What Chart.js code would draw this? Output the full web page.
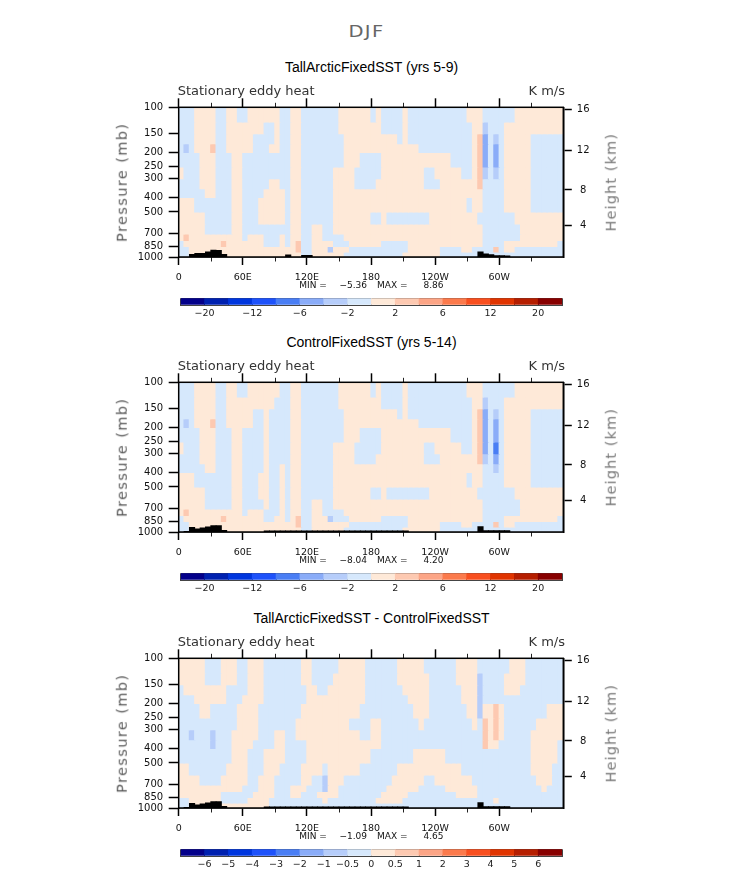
<!DOCTYPE html>
<html><head><meta charset="utf-8">
<script src="https://cdn.jsdelivr.net/npm/chart.js@4.4.1/dist/chart.umd.min.js"></script>
<style>
html,body{margin:0;padding:0;background:#fff;}
body{width:733px;height:872px;position:relative;overflow:hidden;font-family:"DejaVu Sans",sans-serif;}
.t{position:absolute;line-height:1;white-space:pre;}
canvas{position:absolute;}
</style></head><body>
<script>
// ---------------- DATA ----------------
const lonCenters = [2.5,7.5,12.5,17.5,22.5,27.5,32.5,37.5,42.5,47.5,52.5,57.5,62.5,67.5,72.5,77.5,82.5,87.5,92.5,97.5,102.5,107.5,112.5,117.5,122.5,127.5,132.5,137.5,142.5,147.5,152.5,157.5,162.5,167.5,172.5,177.5,182.5,187.5,192.5,197.5,202.5,207.5,212.5,217.5,222.5,227.5,232.5,237.5,242.5,247.5,252.5,257.5,262.5,267.5,272.5,277.5,282.5,287.5,292.5,297.5,302.5,307.5,312.5,317.5,322.5,327.5,332.5,337.5,342.5,347.5,352.5,357.5];
const pressureEdges = [100,125,150,175,200,250,300,350,400,500,600,700,775,850,925,1000];
const pressureTicks = [100,150,200,250,300,400,500,700,850,1000];
const heightTickPressures = [103.5,194,356.5,616.4];
const heightTickLabels = ['16','12','8','4'];
const lonTickValues = [0,60,120,180,240,300];
const lonTickLabels = ['0','60E','120E','180','120W','60W'];
const lonMinorTicks = [30,90,150,210,270,330];
const levelsFull = [-20,-16,-12,-8,-6,-4,-2,0,2,4,6,8,12,16,20];
const levelsDiff = [-6,-5,-4,-3,-2,-1,-0.5,0,0.5,1,2,3,4,5,6];
const cbBoundaries = [0,1,2,3,4,5,6,7,8,9,10,11,12,13,14,15,16];
const cbLabelsFull = ['','−20','','−12','','−6','','−2','','2','','6','','12','','20',''];
const cbLabelsDiff = ['','−6','−5','−4','−3','−2','−1','−0.5','0','0.5','1','2','3','4','5','6',''];
const palette = ['#03008A','#0021B0','#0036DE','#1E52FA','#4A7EF4','#8AACF8','#B6CDFA','#D6E8FC','#FEE9D8','#FDC9B1','#FCA586','#FB7A4C','#F84F1F','#E03400','#B51E00','#880000'];
const panelTitles = ['TallArcticFixedSST (yrs 5-9)','ControlFixedSST (yrs 5-14)','TallArcticFixedSST - ControlFixedSST'];
const panelMin = ['−5.36','−8.04','−1.09'];
const panelMax = ['8.86','4.20','4.65'];

// field: one array per 5° longitude column, values per pressure band (top 100-125 ... bottom 925-1000)
const taField = [
[-1,-1,-1,-1,-1,1,-1,-1,1,1,1,1,-1,-1,-1],[-1,-1,-1,-3,-1,-1,-1,-1,1,1,1,3,1,-1,-1],[-1,-1,-1,-1,-1,-1,-1,-1,1,1,1,1,1,1,1],[1,1,1,1,-1,-1,-1,-1,-1,1,1,1,1,1,1],
[1,1,1,1,1,1,1,-1,-1,1,1,1,1,1,1],[1,1,1,1,1,1,1,1,-1,-1,-1,1,1,1,1],[1,1,1,3,1,1,1,1,-1,-1,-1,1,1,1,1],[-1,-1,-1,-1,-1,-1,-1,-1,-1,-1,-1,1,1,1,1],
[-1,-1,-1,-1,-1,-1,-1,-1,-1,-1,-1,1,3,1,1],[1,1,1,1,-1,-1,-1,-1,-1,-1,-1,1,1,1,1],[1,1,1,1,1,1,1,1,1,1,1,1,1,1,1],[-1,1,1,1,1,1,1,1,1,1,1,1,1,1,1],
[-1,1,1,1,-1,-1,-1,-1,-1,-1,-1,-1,1,1,1],[1,1,1,1,-1,-1,-1,-1,-1,-1,-1,1,1,1,1],[1,1,-1,-1,-1,-1,-1,-1,-1,-1,-1,1,1,1,1],[1,1,-1,-1,-1,-1,-1,-1,1,1,-1,1,1,1,1],
[1,-1,-1,-1,-1,-1,-1,1,1,1,-1,-1,-1,1,1],[1,-1,-1,1,-1,-1,1,1,1,1,-1,-1,-1,1,1],[1,1,1,1,-1,-1,1,1,1,1,-1,-1,-1,1,1],[-1,-1,-1,-1,-1,-1,-1,1,1,1,-1,1,1,1,1],
[-1,-1,-1,-1,-1,-1,-1,-1,-1,-1,-1,-1,-1,1,1],[1,1,1,1,1,1,1,1,1,1,1,1,1,1,1],[1,1,1,1,1,1,1,1,1,1,1,1,3,3,1],[-1,-1,-1,-1,-1,-1,-1,-1,-1,-1,-1,-1,-1,-1,-1],
[-1,-1,-1,-1,-1,-1,-1,-1,-1,-1,-1,-1,-1,-1,-1],[-1,-1,-1,-1,-1,-1,-1,-1,-1,-1,1,1,1,1,1],[-1,-1,-1,-1,-1,-1,-1,-1,-1,-1,1,1,1,1,1],[-1,-1,-1,-1,-1,-1,-1,-1,-1,-1,-1,-1,1,1,1],
[-1,-1,-1,-1,-1,-1,-1,-1,-1,-1,-1,-1,1,-3,1],[-1,-1,-1,-1,-1,1,1,1,1,1,1,-1,-1,1,1],[1,1,-1,-1,-1,1,1,1,1,1,1,-1,-1,1,1],[1,1,1,1,1,1,1,1,1,1,1,1,-1,1,-1],
[1,1,1,1,1,1,1,1,1,1,1,1,1,-1,-1],[1,1,1,1,1,-1,-1,1,1,1,1,1,1,-1,-1],[1,1,1,1,-1,-1,-1,1,1,1,1,1,1,-1,-1],[1,1,1,1,-1,-1,-1,1,1,1,1,1,1,-1,-1],
[-1,1,1,1,-1,-1,-1,1,1,-1,1,1,1,-1,-1],[1,1,1,1,-1,-1,1,1,1,-1,1,1,1,-1,-1],[-1,-1,1,1,1,1,1,1,1,1,1,1,-1,-1,-1],[-1,-1,1,1,1,1,1,1,1,-1,1,1,-1,-1,-1],
[-1,-1,1,1,1,1,1,1,1,-1,1,1,-1,-1,-1],[-1,-1,-1,1,1,1,1,1,1,-1,1,1,-1,-1,-1],[1,1,1,1,1,1,1,1,1,-1,1,1,-1,-1,1],[-1,-1,-1,1,1,1,1,1,1,-1,1,1,1,1,1],
[-1,-1,-1,1,1,1,1,1,1,-1,1,1,1,1,1],[-1,-1,-1,-1,1,1,1,1,1,-1,1,1,1,1,1],[-1,-1,-1,-1,1,-1,-1,1,1,-1,1,1,1,1,1],[-1,-1,-1,-1,1,-1,-1,1,1,1,1,1,1,1,1],
[-1,-1,-1,-1,1,1,-1,1,1,1,1,1,1,1,1],[-1,-1,-1,-1,1,1,1,1,1,1,1,1,1,-1,-1],[-1,-1,-1,-1,1,1,1,1,1,1,1,1,1,-1,-1],[-1,-1,-1,-1,-1,1,1,1,1,1,1,1,1,-1,-1],
[-1,-1,-1,-1,-1,1,1,1,1,1,1,1,1,-1,-1],[-1,-1,-1,-1,-1,-1,1,1,1,1,1,1,1,1,-1],[1,-1,-1,-1,-1,-1,1,1,-1,1,1,1,1,1,-1],[1,1,1,1,1,1,1,1,1,1,1,1,1,-1,-1],
[1,1,3,3,3,3,3,1,1,-1,1,1,1,-1,-1],[-1,-3,-5,-5,-5,-3,-1,-1,-1,-1,-1,-1,-1,-1,-1],[-1,-1,-1,-1,-1,-1,-1,-1,-1,-1,-1,-1,-1,-1,-1],[-1,-1,-3,-5,-5,-3,-1,-1,-1,-1,-1,-1,-1,3,-1],
[-1,-1,-1,-1,-1,-1,-1,-1,-1,-1,-1,-1,-1,-1,-1],[-1,1,1,1,1,1,1,1,1,-1,-1,-1,1,1,-1],[-1,1,1,1,1,1,1,1,1,-1,-1,-1,1,1,-1],[1,1,1,1,1,1,1,1,1,1,-1,-1,1,-1,-1],
[1,1,1,1,1,1,1,1,1,1,1,1,1,-1,-1],[1,1,1,1,1,1,1,1,1,1,1,1,1,-1,-1],[1,1,-1,-1,-1,-1,-1,-1,-1,1,1,1,1,-1,-1],[1,1,-1,-1,-1,-1,-1,-1,-1,1,1,1,1,-1,-1],
[1,1,-1,-1,-1,-1,-1,-1,-1,1,1,1,1,-1,-1],[1,1,-1,-1,-1,-1,-1,-1,-1,1,1,1,1,-1,-1],[1,1,-1,-1,-1,-1,-1,-1,-1,1,1,1,1,-1,-1],[1,1,-1,-1,-1,-1,-1,-1,-1,1,1,1,-1,-1,-1]
];
const ctlField = [
[-1,-1,-1,-1,-1,1,-1,-1,1,1,1,1,-1,-1,-1],[-1,-1,-1,-3,-1,-1,-1,-1,1,1,1,3,1,-1,-1],[-1,-1,-1,-1,-1,-1,-1,-1,1,1,1,1,1,1,1],[1,1,1,1,-1,-1,-1,-1,-1,1,1,1,1,1,1],
[1,1,1,1,1,1,1,-1,-1,1,1,1,1,1,1],[1,1,1,1,1,1,1,1,-1,-1,-1,1,1,1,1],[1,1,1,3,1,1,1,1,-1,-1,-1,1,1,1,1],[-1,-1,-1,-1,-1,-1,-1,-1,-1,-1,-1,1,1,1,1],
[-1,-1,-1,-1,-1,-1,-1,-1,-1,-1,-1,1,3,1,1],[1,1,1,1,-1,-1,-1,-1,-1,-1,-1,1,1,1,1],[1,1,1,1,1,1,1,1,1,1,1,1,1,1,1],[-1,1,1,1,1,1,1,1,1,1,1,1,1,1,1],
[-1,1,1,1,-1,-1,-1,-1,-1,-1,-1,-1,1,1,1],[1,1,1,1,-1,-1,-1,-1,-1,-1,-1,1,1,1,1],[1,1,-1,-1,-1,-1,-1,-1,-1,-1,-1,1,1,1,1],[1,1,-1,-1,-1,-1,-1,-1,1,1,-1,1,1,1,1],
[1,1,1,1,1,1,1,1,1,1,1,-1,-1,1,1],[1,1,-1,-1,-1,-1,-1,-1,-1,-1,-1,-1,-1,1,1],[1,-1,-1,-1,-1,-1,-1,-1,-1,-1,-1,-1,1,1,1],[-1,-1,-1,-1,-1,-1,-1,1,1,1,1,1,1,1,1],
[-1,-1,-1,-1,-1,-1,-1,-1,-1,-1,-1,-1,-1,1,1],[1,1,1,1,1,1,1,1,1,1,1,1,1,1,1],[1,1,1,1,1,1,1,1,1,1,1,1,3,3,1],[-1,-1,-1,-1,-1,-1,-1,-1,-1,-1,-1,-1,-1,-1,-1],
[-1,-1,-1,-1,-1,-1,-1,-1,-1,-1,-1,-1,-1,-1,-1],[-1,-1,-1,-1,-1,-1,-1,-1,-1,-1,1,1,1,1,1],[-1,-1,-1,-1,-1,-1,-1,-1,-1,-1,1,1,1,1,1],[-1,-1,-1,-1,-1,-1,-1,-1,-1,-1,-1,-1,1,1,1],
[-1,-1,-1,-1,-1,-1,-1,-1,-1,-1,-1,-1,-3,1,1],[-1,-1,-1,-1,-1,1,1,1,1,1,1,-1,-1,1,1],[1,1,-1,-1,-1,1,1,1,1,1,1,-1,-1,1,1],[1,1,1,1,1,1,1,1,1,1,1,1,-1,1,-1],
[1,1,1,1,1,1,1,1,1,1,1,1,1,-1,-1],[1,1,1,1,1,-1,-1,1,1,1,1,1,1,-1,-1],[1,1,1,1,-1,-1,-1,1,1,1,1,1,1,-1,-1],[1,1,1,1,-1,-1,-1,1,1,1,1,1,1,-1,-1],
[-1,1,1,1,-1,-1,-1,1,1,-1,1,1,1,-1,-1],[1,1,1,1,-1,-1,1,1,1,-1,1,1,1,-1,-1],[-1,-1,1,1,1,1,1,1,1,1,1,1,-1,-1,-1],[-1,-1,1,1,1,1,1,1,1,-1,1,1,-1,-1,-1],
[-1,-1,1,1,1,1,1,1,1,-1,1,1,-1,-1,-1],[-1,-1,-1,1,1,1,1,1,1,-1,1,1,-1,-1,-1],[1,1,1,1,1,1,1,1,1,-1,1,1,-1,-1,1],[-1,-1,-1,1,1,1,1,1,1,-1,1,1,1,1,1],
[-1,-1,-1,1,1,1,1,1,1,-1,1,1,1,1,1],[-1,-1,-1,-1,1,1,1,1,1,-1,1,1,1,1,1],[-1,-1,-1,-1,1,-1,-1,1,1,-1,1,1,1,1,1],[-1,-1,-1,-1,1,-1,-1,1,1,1,1,1,1,1,1],
[-1,-1,-1,-1,1,1,-1,1,1,1,1,1,1,1,1],[-1,-1,-1,-1,1,1,1,1,1,1,1,1,1,-1,-1],[-1,-1,-1,-1,1,1,1,1,1,1,1,1,1,-1,-1],[-1,-1,-1,-1,-1,1,1,1,1,1,1,1,1,-1,-1],
[-1,-1,-1,-1,-1,1,1,1,1,1,1,1,1,-1,-1],[-1,-1,-1,-1,-1,-1,1,1,1,1,1,1,1,1,-1],[1,-1,-1,-1,-1,-1,1,1,-1,1,1,1,1,1,-1],[1,1,1,1,1,1,1,1,1,1,1,1,1,-1,-1],
[1,1,3,3,3,3,3,1,1,-1,1,1,1,-1,-1],[-1,-3,-5,-5,-5,-5,-3,-1,-1,-1,-1,-1,-1,-1,-1],[-1,-1,-1,-1,-1,-1,-1,-1,-1,-1,-1,-1,-1,-1,-1],[-1,-1,-3,-5,-5,-7,-5,-3,-1,-1,-1,-1,-1,3,-1],
[-1,-1,-1,-1,-1,-1,-1,-1,-1,-1,-1,-1,-1,-1,-1],[-1,1,1,1,1,1,1,1,1,-1,-1,-1,1,1,-1],[-1,1,1,1,1,1,1,1,1,-1,-1,-1,1,1,-1],[1,1,1,1,1,1,1,1,1,1,-1,-1,1,-1,-1],
[1,1,1,1,1,1,1,1,1,1,1,1,1,-1,-1],[1,1,1,1,1,1,1,1,1,1,1,1,1,-1,-1],[1,1,-1,-1,-1,-1,-1,-1,-1,1,1,1,1,-1,-1],[1,1,-1,-1,-1,-1,-1,-1,-1,1,1,1,1,-1,-1],
[1,1,-1,-1,-1,-1,-1,-1,-1,1,1,1,1,-1,-1],[1,1,-1,-1,-1,-1,-1,-1,-1,1,1,1,1,-1,-1],[1,1,-1,-1,-1,-1,-1,-1,-1,1,1,1,1,-1,-1],[1,1,-1,-1,-1,-1,-1,-1,-1,1,1,1,-1,-1,-1]
];
const diffField = [
[.2,.2,-.2,-.2,-.2,-.2,-.2,-.2,-.2,.2,.2,.2,.2,-.2,-.2],[.2,.2,.2,-.2,-.2,-.2,-.2,-.2,-.2,.2,.2,.2,.2,-.2,-.2],[.2,.2,.2,-.2,-.2,-.2,-.7,-.2,-.2,-.2,.2,.2,.2,.2,.2],[.2,.2,.2,.2,-.2,-.2,-.2,-.2,-.2,-.2,.2,.2,.2,.2,.2],
[.2,.2,.2,.2,.2,-.2,-.2,-.2,-.2,-.2,-.2,.2,.2,.2,.2],[-.2,-.2,.2,.2,.2,-.2,-.2,-.2,-.2,-.2,-.2,.2,.2,.2,.2],[-.2,-.2,.2,.2,-.2,-.2,-.7,-.7,-.2,-.2,-.2,.2,.2,.2,.2],[-.2,-.2,.2,.2,-.2,-.2,-.2,-.2,-.2,-.2,-.2,.2,.2,.2,.2],
[.2,.2,.2,.2,-.2,-.2,-.2,-.2,-.2,-.2,.2,.2,-.2,-.2,.2],[.2,.2,-.2,-.2,-.2,-.2,-.2,-.2,-.2,.2,.2,.2,-.2,-.2,.2],[.2,.2,-.2,-.2,-.2,-.2,.2,.2,.2,.2,.2,.2,-.2,-.2,.2],[-.2,-.2,-.2,-.2,.2,.2,.2,.2,.2,.2,.2,.2,-.2,-.2,.2],
[-.2,-.2,-.2,.2,.2,.2,.2,.2,.2,.2,.2,-.2,-.2,-.2,.2],[.2,.2,.2,.2,.2,.2,.2,.2,-.2,-.2,-.2,-.2,-.2,.2,.2],[.2,.2,.2,.2,.2,.2,.2,-.2,-.2,-.2,-.2,-.2,.2,.2,.2],[.2,.2,.2,.2,-.2,-.2,-.2,-.2,-.2,-.2,.2,.2,.2,.2,.2],
[-.2,-.2,-.2,-.2,-.2,-.2,-.2,-.2,.2,.2,.2,.2,.2,.2,.2],[-.2,-.2,-.2,-.2,-.2,-.2,-.2,-.2,.2,.2,.2,.2,.2,-.2,-.2],[-.2,-.2,-.2,-.2,-.2,-.2,.2,.2,.2,.2,-.2,-.2,-.2,-.2,-.2],[-.2,-.2,-.2,-.2,-.2,-.2,.2,.2,.2,-.2,-.2,-.2,-.2,-.2,-.2],
[-.2,-.2,-.2,-.2,-.2,-.2,-.2,-.2,-.2,-.2,-.2,-.2,-.2,-.2,-.2],[-.2,-.2,-.2,-.2,-.2,-.2,-.2,-.2,-.2,-.2,-.2,.2,.2,-.2,-.2],[-.2,-.2,-.2,-.2,-.2,.2,.2,-.2,-.2,-.2,-.2,.2,.2,-.2,-.2],[.2,.2,-.2,-.2,.2,.2,.2,-.2,-.2,.2,.2,.2,-.2,-.2,-.2],
[.2,.2,.2,.2,.2,.2,.2,.2,.2,.2,.2,-.2,-.2,-.2,-.2],[-.2,-.2,.2,.2,.2,.2,.2,.2,.2,.2,-.2,-.2,-.2,-.2,-.2],[-.2,-.2,-.2,.2,.2,.2,.2,.2,.2,.2,-.2,-.2,.2,-.2,-.2],[-.2,-.2,-.2,.2,.2,.2,.2,.2,.2,-.2,-.7,-.7,.2,.2,-.2],
[-.2,-.2,.2,.2,.2,.2,.2,.2,.2,.2,.2,.2,.2,-.2,-.2],[-.2,.2,.2,.2,.2,.2,.2,.2,.2,.2,.2,.2,.2,-.2,-.2],[.2,.2,.2,.2,.2,.2,.2,.2,.2,.2,.2,-.2,-.2,-.2,-.2],[.2,.2,.2,.2,.2,.2,.2,.2,.2,.2,-.2,-.2,-.2,-.2,-.2],
[.2,.2,.2,.2,.2,-.2,.2,.2,.2,.2,-.2,-.2,-.2,-.2,-.2],[.2,.2,.2,.2,.2,-.2,.2,.2,.2,.2,-.2,-.2,-.2,-.2,-.2],[.2,.2,.2,.2,-.2,-.2,-.2,.2,.2,-.2,-.2,-.2,-.2,-.2,-.2],[-.2,-.2,-.2,-.2,-.2,-.2,-.2,.2,.2,-.2,-.2,-.2,-.2,-.2,-.2],
[-.2,-.2,-.2,-.2,-.2,.2,.2,.2,-.2,-.2,-.2,-.2,-.2,-.2,-.2],[-.2,-.2,-.2,-.2,-.2,.2,.2,.2,-.2,-.2,-.2,-.2,-.2,.2,-.2],[-.2,-.2,-.2,-.2,-.2,-.2,-.2,-.2,-.2,-.2,-.2,-.2,.2,.2,-.2],[-.2,-.2,-.2,-.2,-.2,-.2,-.2,-.2,-.2,-.2,-.2,.2,.2,.2,-.2],
[-.2,-.2,-.2,-.2,-.2,-.2,-.2,-.2,-.2,-.2,.2,.2,.2,.2,-.2],[.2,.2,-.2,-.2,-.2,-.2,-.2,-.2,-.2,.2,.2,.2,.2,.2,-.2],[.2,.2,.2,-.2,-.2,-.2,-.2,-.2,-.2,.2,.2,.2,.2,-.2,-.2],[.2,.2,.2,.2,-.2,-.2,-.2,-.2,-.2,.2,.2,.2,-.2,-.2,-.2],
[.2,.2,.2,.2,.2,-.2,-.2,-.2,.2,.2,.2,.2,-.2,-.2,-.2],[.2,.2,.2,.2,.2,.2,-.2,-.2,.2,.2,.2,-.2,-.2,-.2,-.2],[-.2,.2,.2,.2,.2,-.2,-.2,-.2,.2,.2,-.2,-.2,-.2,-.2,-.2],[-.2,-.2,-.2,-.2,-.2,-.2,-.2,-.2,.2,.2,-.2,-.2,-.2,-.2,-.2],
[-.2,-.2,-.2,-.2,-.2,-.2,-.2,-.2,.2,.2,.2,-.2,-.2,-.2,-.2],[-.2,-.2,-.2,-.2,-.2,-.2,-.2,-.2,.2,.2,.2,-.2,-.2,-.2,-.2],[-.2,-.2,-.2,-.2,-.2,-.2,-.2,-.2,-.2,.2,.2,.2,-.2,-.2,-.2],[-.2,-.2,-.2,-.2,-.2,-.2,-.2,-.2,-.2,.2,.2,.2,-.2,-.2,-.2],
[.2,.2,-.2,-.2,-.2,-.2,-.2,-.2,-.2,.2,.2,.2,.2,-.2,-.2],[.2,.2,.2,.2,-.2,-.2,-.2,-.2,-.2,-.2,.2,.2,.2,-.2,-.2],[.2,.2,.2,.2,.2,-.2,-.2,-.2,-.2,-.2,.2,.2,.2,-.2,-.2],[.2,.2,.2,.2,.2,.2,-.2,-.2,-.2,-.2,-.2,.2,.2,-.2,-.2],
[-.2,-.7,-.7,-.7,-.7,-.2,-.2,-.2,-.2,-.2,-.2,-.2,-.2,-.2,-.2],[-.2,-.2,-.2,-.2,.2,.7,.7,.7,-.2,-.2,-.2,-.2,-.2,-.2,-.2],[-.2,-.2,-.2,-.2,.2,.2,.2,.2,-.2,-.2,-.2,-.2,-.2,-.2,-.2],[-.2,-.2,-.2,-.2,.7,.7,.7,.2,-.2,-.2,-.2,-.2,-.2,.2,-.2],
[-.2,-.2,-.2,-.2,.2,.2,.2,-.2,-.2,-.2,-.2,-.2,-.2,-.2,-.2],[-.2,.2,.2,-.2,-.2,-.2,-.2,-.2,-.2,-.2,-.2,-.2,-.2,-.2,-.2],[.2,.2,.2,-.2,-.2,-.2,-.2,-.2,-.2,-.2,-.2,-.2,-.2,-.2,-.2],[.2,.2,.2,-.2,-.2,-.2,-.2,-.2,-.2,-.2,-.2,-.2,-.2,-.2,-.2],
[.2,.2,-.2,-.2,-.2,-.2,-.2,-.2,-.2,-.2,-.2,-.2,-.2,-.2,-.2],[-.2,-.2,-.2,-.2,-.2,-.2,-.2,-.2,-.2,-.2,-.2,-.2,-.2,-.2,-.2],[-.2,-.2,-.2,-.2,-.2,-.2,.2,.2,.2,.2,-.2,-.2,-.2,-.2,-.2],[-.2,-.2,-.2,-.2,-.2,.2,.2,.2,.2,.2,.2,-.2,-.2,-.2,-.2],
[-.2,-.2,-.2,-.2,-.2,.2,.2,.2,.2,.2,.2,.2,-.2,-.2,-.2],[-.2,-.2,-.2,-.2,.2,.2,.2,.2,.2,.2,.2,-.2,-.2,-.2,-.2],[-.2,-.2,-.2,-.2,.2,.2,.2,.2,.2,-.2,-.2,-.2,-.2,-.2,-.2],[-.2,-.2,-.2,-.2,.2,.2,.2,-.2,-.2,-.2,-.2,-.2,-.2,-.2,-.2]
];
// surface (topography) top pressure per column, 1000 = no terrain
const taTopo = [1000,1000,960,945,945,925,900,905,960,1000, 1000,1000,1000,1000,1000,1000,1000,1000,1000,1000, 970,1000,1000,975,975,1000,1000,1000,1000,1000, 1000,1000,1000,1000,1000,1000,1000,1000,1000,1000, 1000,1000,1000,1000,1000,1000,1000,1000,1000,1000, 1000,1000,1000,1000,1000,1000,925,955,965,980, 980,985,1000,1000,1000,1000,1000,1000,1000,1000,1000,1000];
const ctlTopo = [1000,990,930,955,940,925,907,907,975,1000, 1000,1000,1000,1000,1000,1000,985,985,985,985, 985,985,985,985,985,985,985,985,985,985, 985,985,985,985,985,985,985,985,985,985, 985,985,985,1000,1000,1000,1000,1000,1000,1000, 1000,1000,1000,1000,1000,1000,920,980,980,980, 980,980,1000,1000,1000,1000,1000,1000,1000,1000,1000,1000];
const diffTopo = [1000,990,930,955,940,925,907,907,975,1000, 1000,1000,1000,1000,1000,1000,985,985,985,985, 985,985,985,985,985,985,985,985,985,985, 985,985,985,985,985,985,985,985,985,985, 985,985,985,1000,1000,1000,1000,1000,1000,1000, 1000,1000,1000,1000,1000,1000,920,980,980,980, 980,980,1000,1000,1000,1000,1000,1000,1000,1000,1000,1000];

// ---------------- RENDER ----------------
Chart.defaults.font.family = '"DejaVu Sans", sans-serif';
Chart.defaults.color = '#111';
const panels = [
  {field: taField, topo: taTopo, levels: levelsFull, cb: cbLabelsFull, dy: 0},
  {field: ctlField, topo: ctlTopo, levels: levelsFull, cb: cbLabelsFull, dy: 275},
  {field: diffField, topo: diffTopo, levels: levelsDiff, cb: cbLabelsDiff, dy: 551}
];
function colorFor(v, levels){ let i=0; while(i<levels.length && v>=levels[i]) i++; return palette[i]; }
function addText(txt, css){ const d=document.createElement('div'); d.className='t'; d.textContent=txt; Object.assign(d.style, css); document.body.appendChild(d); return d; }
function addCanvas(l,t,w,h){ const c=document.createElement('canvas'); c.width=w; c.height=h; c.style.left=l+'px'; c.style.top=t+'px'; c.style.width=w+'px'; c.style.height=h+'px'; document.body.appendChild(c); return c; }

const frameTickPlugin = { id:'frameTicks', afterDraw(chart){
  const s=chart.scales.xb, a=chart.chartArea, ctx=chart.ctx;
  ctx.save();
  ctx.strokeStyle='#222'; ctx.lineWidth=1; ctx.beginPath();
  lonMinorTicks.forEach(v=>{ const x=Math.round(s.getPixelForValue(v))+0.5;
    ctx.moveTo(x,a.bottom); ctx.lineTo(x,a.bottom+4.5); ctx.moveTo(x,a.top); ctx.lineTo(x,a.top-4.5); });
  ctx.stroke();
  ctx.strokeStyle='#000'; ctx.lineWidth=1.5;
  ctx.strokeRect(a.left, a.top, a.right-a.left, a.bottom-a.top);
  ctx.restore(); } };

addText('DJF', {left:'0px', width:'733px', textAlign:'center', top:'25px', fontSize:'15px', letterSpacing:'1px', color:'#666', transform:'scaleX(1.3)'});

panels.forEach((P, pi) => {
  const dy = P.dy;
  const datasets = [];
  for (let k=0; k<pressureEdges.length-1; k++) {
    datasets.push({ xAxisID:'x', yAxisID:'y', order:1,
      data: P.field.map(() => [pressureEdges[k+1], pressureEdges[k]]),
      backgroundColor: P.field.map(col => colorFor(col[k], P.levels)),
      borderWidth:0, inflateAmount:0.6, grouped:false, barPercentage:1, categoryPercentage:1, clip:0 });
  }
  datasets.push({ xAxisID:'x', yAxisID:'y', order:0, data: P.topo.map(p => p<1000 ? [1000,p] : null),
    backgroundColor:'#000', borderWidth:0, inflateAmount:0.4, grouped:false, barPercentage:1, categoryPercentage:1, clip:0 });

  const tickFont = {family:'"DejaVu Sans", sans-serif', size:10};
  const grid = (len) => ({display:true, offset:false, drawOnChartArea:false, drawTicks:true, tickLength:len, tickWidth:1.5, tickColor:'#000'});
  const border = {display:true, color:'#000', width:1.5};
  new Chart(addCanvas(100, 95+dy, 540, 200), {
    type:'bar',
    data:{labels: lonCenters, datasets},
    options:{ responsive:false, animation:false, events:[],
      layout:{padding:0},
      plugins:{legend:{display:false}, tooltip:{enabled:false}, title:{display:false}},
      scales:{
        x:{type:'category', display:false, offset:true},
        xb:{type:'linear', position:'bottom', min:0, max:360, z:1, offset:false,
          afterBuildTicks:s=>{ s.ticks = lonTickValues.map(v=>({value:v})); },
          afterFit:s=>{ s.height = 38; },
          ticks:{autoSkip:false, maxRotation:0, padding:7, color:'#111', font:{family:'"DejaVu Sans", sans-serif', size:9.5}, callback:(v,i)=>lonTickLabels[i]},
          grid:grid(8), border},
        xt:{type:'linear', position:'top', min:0, max:360, z:1, offset:false,
          afterBuildTicks:s=>{ s.ticks = lonTickValues.map(v=>({value:v})); },
          afterFit:s=>{ s.height = 12.3; },
          ticks:{display:false}, grid:grid(9), border},
        y:{type:'logarithmic', position:'left', reverse:true, min:100, max:1000, z:1, offset:false,
          afterBuildTicks:s=>{ s.ticks = pressureTicks.map(v=>({value:v})); },
          afterFit:s=>{ s.width = 78.7; },
          ticks:{autoSkip:false, padding:5.5, color:'#111', font:tickFont, callback:v=>String(v)},
          grid:grid(10), border},
        yr:{type:'logarithmic', position:'right', reverse:true, min:100, max:1000, z:1, offset:false,
          afterBuildTicks:s=>{ s.ticks = heightTickPressures.map(v=>({value:v})); },
          afterFit:s=>{ s.width = 76.7; },
          ticks:{autoSkip:false, padding:5, crossAlign:'center', color:'#111', font:tickFont, callback:(v,i)=>heightTickLabels[i]},
          grid:grid(8.5), border}
      }
    },
    plugins:[frameTickPlugin]
  });

  // colour bar
  new Chart(addCanvas(170, 296+dy, 410, 26), {
    type:'bar',
    data:{labels: palette.map((c,i)=>i), datasets:[{ xAxisID:'x', yAxisID:'y', data: palette.map(()=>[0,1]), backgroundColor: palette,
      borderWidth:0, inflateAmount:0.3, barPercentage:1, categoryPercentage:1 }]},
    options:{ responsive:false, animation:false, events:[],
      layout:{padding:{left:10.7, right:18, top:2.3, bottom:0}},
      plugins:{legend:{display:false}, tooltip:{enabled:false}},
      scales:{
        x:{type:'category', display:false, offset:true},
        xl:{type:'linear', position:'bottom', min:0, max:16, z:1, offset:false,
          afterBuildTicks:s=>{ s.ticks = cbBoundaries.map(v=>({value:v})); },
          afterFit:s=>{ s.height = 17; },
          ticks:{autoSkip:false, maxRotation:0, padding:3, color:'#222', font:{family:'"DejaVu Sans", sans-serif', size:9.5}, callback:(v,i)=>P.cb[i]},
          grid:{display:true, offset:false, drawOnChartArea:true, drawTicks:false, color:'#444', lineWidth:1},
          border:{display:true, color:'#444', width:1}},
        y:{type:'linear', position:'left', min:0, max:1, z:1,
          afterBuildTicks:s=>{ s.ticks = [{value:0},{value:1}]; },
          afterFit:s=>{ s.width = 0; },
          ticks:{display:false},
          grid:{display:true, drawOnChartArea:true, drawTicks:false, color:'#444', lineWidth:1},
          border:{display:false}}
      }
    }
  });

  // texts
  addText(panelTitles[pi], {left:'71.5px', width:'600px', textAlign:'center', top:(59.9+dy)+'px', fontFamily:'"Liberation Sans", Arial, sans-serif', fontSize:'14px', color:'#000'});
  addText('Stationary eddy heat', {left:'177.7px', top:(84.3+dy)+'px', fontSize:'13px', color:'#333'});
  addText('K m/s', {left:'365px', width:'200px', textAlign:'right', top:(84.3+dy)+'px', fontSize:'13px', color:'#333'});
  const pt = addText('Pressure (mb)', {left:(121.5-100)+'px', width:'200px', textAlign:'center', top:(182.2+dy-7.25)+'px', fontSize:'14.5px', letterSpacing:'1.4px', color:'#5a5a5a'});
  pt.style.transform='rotate(-90deg)';
  const ht = addText('Height (km)', {left:(610.5-100)+'px', width:'200px', textAlign:'center', top:(182.5+dy-7.25)+'px', fontSize:'14.5px', letterSpacing:'1.1px', color:'#777'});
  ht.style.transform='rotate(-90deg)';
  addText('MIN =', {left:'299.3px', top:(281.4+dy)+'px', fontSize:'9px', color:'#111'});
  addText(panelMin[pi], {left:'267px', width:'100px', textAlign:'right', top:(281.4+dy)+'px', fontSize:'9px', color:'#111'});
  addText('MAX =', {left:'377px', top:(281.4+dy)+'px', fontSize:'9px', color:'#111'});
  addText(panelMax[pi], {left:'343.5px', width:'100px', textAlign:'right', top:(281.4+dy)+'px', fontSize:'9px', color:'#111'});
});
</script>
</body></html>
